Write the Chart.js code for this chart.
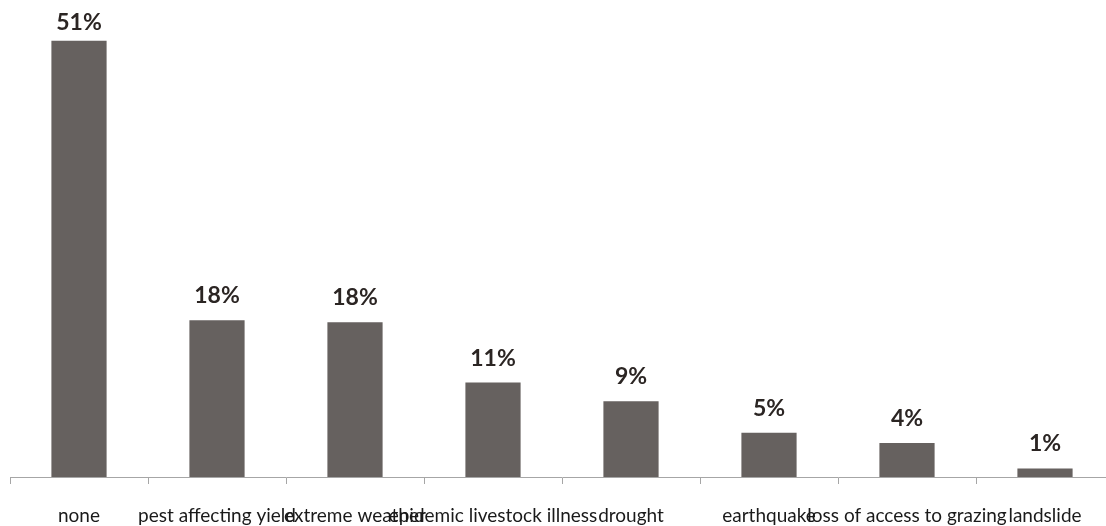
<!DOCTYPE html>
<html>
<head>
<meta charset="utf-8">
<script src="https://cdn.jsdelivr.net/npm/chart.js@4/dist/chart.umd.min.js"></script>
<style>
  html, body { margin: 0; padding: 0; background: #fff; overflow: hidden; }
  #wrap { position: relative; width: 1120px; height: 526px; }
</style>
</head>
<body>
<div id="wrap"><canvas id="c"></canvas></div>
<script>
// Share of households reporting each shock
const categories = [
  'none', 'pest affecting yield', 'extreme weather', 'epidemic livestock illness',
  'drought', 'earthquake', 'loss of access to grazing', 'landslide'
];
const shares = [51.3, 18.45, 18.2, 11.1, 8.9, 5.2, 4.0, 1.0];

const barColor = '#66615f';

// Bold percentage above each bar, kept inside the canvas for the tallest one
const valueLabels = {
  id: 'valueLabels',
  afterDatasetsDraw(chart) {
    const ctx = chart.ctx;
    const meta = chart.getDatasetMeta(0);
    ctx.save();
    ctx.font = 'bold 23px Lato, "Liberation Sans", sans-serif';
    ctx.fillStyle = '#2b2523';
    ctx.textAlign = 'center';
    ctx.textBaseline = 'alphabetic';
    meta.data.forEach((bar, i) => {
      const v = chart.data.datasets[0].data[i];
      const y = Math.max(bar.y - 17, 30);
      ctx.fillText(Math.round(v) + '%', bar.x, y);
    });
    ctx.restore();
  }
};

new Chart(document.getElementById('c'), {
  type: 'bar',
  data: {
    labels: categories,
    datasets: [{
      data: shares,
      backgroundColor: barColor,
      borderWidth: 0,
      barPercentage: 0.4,
      categoryPercentage: 1.0
    }]
  },
  options: {
    responsive: true,
    maintainAspectRatio: false,
    animation: false,
    layout: { padding: { left: 10, right: 6, top: 0, bottom: 0 } },
    plugins: { legend: { display: false }, tooltip: { enabled: false } },
    scales: {
      y: { display: false, min: 0, max: 56.1 },
      x: {
        grid: { drawOnChartArea: false, color: '#a6a6a6', tickLength: 7, offset: true },
        border: { display: true, color: '#a6a6a6', width: 1 },
        ticks: {
          autoSkip: false, maxRotation: 0, minRotation: 0,
          color: '#1a1a1a', padding: 20,
          font: { family: 'Lato, "Liberation Sans", sans-serif', size: 19 }
        },
        // keep the axis band tight so the labels sit near the bottom edge
        afterFit(scale) { scale.height = 49; }
      }
    }
  },
  plugins: [valueLabels]
});
</script>
</body>
</html>
